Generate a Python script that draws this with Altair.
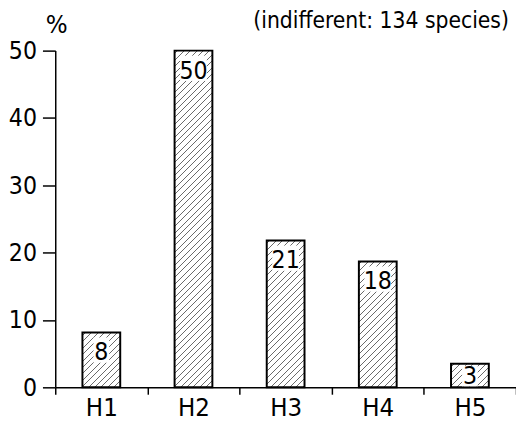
import altair as alt
import pandas as pd

categories = ["H1", "H2", "H3", "H4", "H5"]
values = [8.15, 50.0, 21.8, 18.7, 3.5]
labels = ["8", "50", "21", "18", "3"]
y_ticks = [0, 10, 20, 30, 40, 50]
title_text = "(indifferent: 134 species)"
y_title = "%"

df = pd.DataFrame({"cat": categories, "value": values, "label": labels})

FONT = "DejaVu Sans Condensed, Roboto Condensed, Arial Narrow, Liberation Sans"
W, H = 468, 342
YMAX = 50
BAND = 0.41
bar_w = BAND * W / len(categories)


def hatch(value):
    w = bar_w
    h = value / YMAX * H
    s = w + h
    k = s / (w * w + h * h)
    P, lw = 6.5, 1.0
    col = "#6a6a6a"
    stops = [{"offset": 0, "color": "white"}]
    c = P / 2
    while c + lw / 2 < s:
        a = (c - lw / 2) / s
        b = (c + lw / 2) / s
        stops += [
            {"offset": a, "color": "white"},
            {"offset": a, "color": col},
            {"offset": b, "color": col},
            {"offset": b, "color": "white"},
        ]
        c += P
    stops.append({"offset": 1, "color": "white"})
    return {"gradient": "linear", "x1": 0, "y1": 0, "x2": k * w, "y2": k * h, "stops": stops}


x_scale = alt.Scale(domain=categories, paddingInner=0, paddingOuter=0)
x_axis = alt.Axis(
    title=None, labelAngle=0, tickBand="extent", tickSize=7, tickWidth=1.5,
    labelPadding=1, labelFontSize=26, domainWidth=1.5,
)
y_scale = alt.Scale(domain=[0, YMAX], nice=False)
y_axis = alt.Axis(
    values=y_ticks, title=y_title, titleAngle=0, titleX=1, titleY=-18,
    titleAlign="center", titleBaseline="alphabetic", titleFontSize=26,
    titleFont=FONT, titleFontWeight="normal", titleColor="black",
    tickSize=13, tickWidth=1.5, labelPadding=6, labelFontSize=25,
    domainWidth=1.5, grid=False,
)


def X():
    return alt.X("cat:N", scale=x_scale, axis=x_axis)


def Y(field):
    return alt.Y(field, scale=y_scale, axis=y_axis)


base = alt.Chart(df)

bar_layers = []
for c, v in zip(categories, values):
    layer = base.transform_filter(alt.datum.cat == c).mark_bar(
        width={"band": BAND}, fill=hatch(v), stroke="black", strokeWidth=2
    ).encode(x=X(), y=Y("value:Q"))
    bar_layers.append(layer)

boxed = base.transform_calculate(
    ty="max(datum.value - 4.15, 0.45)"
).transform_calculate(
    btop="min(datum.ty + 3.4, datum.value - 0.3)",
    bbot="max(datum.ty - 0.35, 0.15)",
    nd="length(datum.label)",
)

box1 = boxed.transform_filter("datum.nd == 1").mark_bar(width={"band": 0.17}, color="white").encode(
    x=X(), y=Y("btop:Q"), y2="bbot:Q",
)
box2 = boxed.transform_filter("datum.nd == 2").mark_bar(width={"band": 0.29}, color="white").encode(
    x=X(), y=Y("btop:Q"), y2="bbot:Q",
)
text = boxed.mark_text(baseline="alphabetic", fontSize=25, font=FONT, color="black").encode(
    x=X(), y=Y("ty:Q"), text="label:N",
)

chart = alt.layer(*bar_layers, box1, box2, text).properties(
    width=W,
    height=H,
    padding={"left": 48, "top": 40, "right": 0, "bottom": 37},
    autosize=alt.AutoSizeParams(type="none"),
    title=alt.TitleParams(
        title_text, anchor="end", fontSize=23, font=FONT, fontWeight="normal",
        color="black", dx=-8, dy=39, baseline="alphabetic", offset=0,
    ),
).configure_view(stroke=None).configure_axis(
    domainColor="black", tickColor="black", labelColor="black", labelFont=FONT,
)

chart.save("out.html", embed_options={"renderer": "svg", "actions": False})
